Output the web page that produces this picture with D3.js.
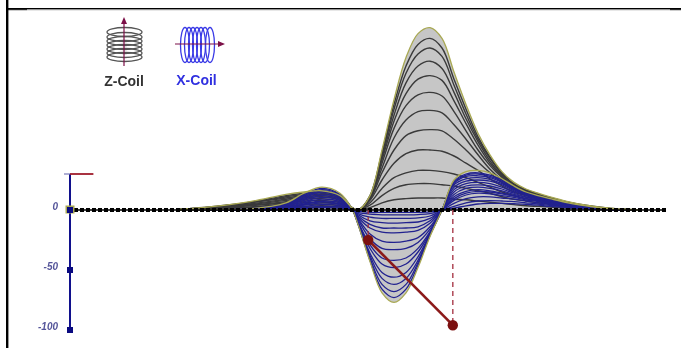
<!DOCTYPE html>
<html>
<head>
<meta charset="utf-8">
<script src="https://cdn.jsdelivr.net/npm/d3@7"></script>
<style>
    html, body { margin: 0; padding: 0; background: #fff; }
    svg { display: block; filter: blur(0.6px); }
</style>
</head>
<body>
<svg id="graph" width="681" height="348"></svg>
<script>
// sample positions along the scan (index of the baseline dots)
const samplePos = [18,24,30,36,39,42,45,47,48,50,52,54,56,58,60,62,64,66,68,70,72,74,76,78,80,83,86,90,95];

// Z-coil response, outermost first
const zEnvelope = [.5,3,7,13,15,16,12,2,0,12,50,92,127,147,152,143,115,88,64,46,32,23,17.5,14,11,7,4,1.5,0];
const zCurves = [
    [.5,3,6.5,12,14,15,11,2,0,12,48,88,120,138,143,135,109,84,61,44,31,22,17,13.5,10.5,6.5,4,1.5,0],
    [.5,2.5,6,11,13,14,10,2,0,11,46,84,114,130,135,128,104,80,59,43,30,21.5,16.5,13,10,6.5,3.5,1,0],
    [.5,2.5,6,10,12,13,10,2,0,11,44,79,106,120,124,118,98,76,57,41,29,21,16,12.5,10,6,3.5,1,0],
    [.5,2,5,9,11,12,9,2,0,11,42,74,97,109,112,108,91,72,54,39,28,20,15,12,9.5,6,3.5,1,0],
    [.5,2,4.5,8,10,11,8,1.5,0,10,39,68,87,96,98,95,82,66,50,37,27,19,14.5,11.5,9,5.5,3,1,0],
    [.3,1.5,4,7,9,9.5,7,1.5,0,10,35,60,75,82,83,81,71,59,46,34,25,18,14,11,8.5,5,3,1,0],
    [.3,1.5,3.5,6,7.5,8,6,1,0,9,31,50,62,66,67,66,59,50,40,31,23,17,13,10,8,5,3,1,0],
    [.3,1,2.5,5,6,6.5,5,1,0,8,25,39,47,50,50,49,45,39,33,26,20,15,12,9,7,4.5,2.5,1,0],
    [.2,1,2,3.5,4.5,5,3.5,1,0,6,18,27,31,33,33,32,30,27,23,19,15,12,9.5,8,6,4,2,.5,0],
    [.2,.5,1.5,2.5,3,3.5,2.5,.5,0,4,12,18,21,22,22,21,20,18,16,14,11,9,7.5,6,5,3,1.5,.5,0],
    [.1,.3,.8,1.5,2,2,1.5,.3,0,2,6,8.5,9.5,10,10,10,9,8.5,7.5,6.5,5.5,4.5,3.5,3,2.5,1.5,1,.3,0]
];

// X-coil response, outermost first
const xEnvelope = [0,.3,1,6,14,19,14,1,-12,-43,-69,-77,-69,-48,-22,0,25,32,33,31,26,20,15,12,9.5,6,3.5,1,0];
const xCurves = [
    [0,.3,1,5.5,13,18,13,1,-12,-42,-66,-73,-66,-46,-21,0,24,30,31,29,25,19,14.5,11.5,9,5.5,3,1,0],
    [0,.2,1,5,12,17,12.5,1,-11,-40,-62,-68,-62,-44,-21,0,23,29,30,28,24,18,14,11,8.5,5.5,3,1,0],
    [0,.2,1,5,11,16,12,1,-11,-38,-57,-62,-57,-42,-20,0,22,28,28.5,27,23,17.5,13.5,10.5,8,5,3,1,0],
    [0,.2,.8,4.5,10,15,11,1,-11,-36,-52,-56,-52,-39,-20,0,21,26,27,25.5,22,17,13,10,8,5,3,.8,0],
    [0,.2,.8,4,9,13.5,10,1,-10,-32,-45,-48,-45,-35,-19,0,19,24,25,24,21,16,12.5,10,7.5,5,2.5,.8,0],
    [0,.2,.7,3.5,8,12,9,1,-10,-29,-40,-42,-40,-32,-18,0,17,22,23,22,19,15,12,9.5,7,4.5,2.5,.8,0],
    [0,.1,.6,3,7,10.5,8,.8,-8,-24,-32,-33,-32,-27,-16,0,15,20,21,20,17.5,14,11,9,6.5,4,2.2,.7,0],
    [0,.1,.5,2.5,6,9,7,.7,-7,-20,-26,-27,-26,-23,-14,0,13,18,19,18,16,13,10.5,8.5,6,4,2,.6,0],
    [0,.1,.4,2,5,7.5,6,.6,-6,-15,-18.5,-19,-18.5,-17,-11,0,11,15.5,17,16,14,12,9.5,7.5,5.5,3.5,1.8,.5,0],
    [0,.1,.4,1.8,4.5,7,5,.5,-5,-12,-15,-15,-15,-14,-9,0,9.5,14,15.5,15,13.5,11.5,9.5,7.8,5.8,3.8,2,.6,0],
    [0,.1,.3,1.5,4,6,4.5,.5,-4,-9,-10.5,-11,-10.5,-10,-7,0,8,12.5,14,13.5,12,10.5,8.5,7,5,3,1.5,.4,0],
    [0,0,.2,1,3,4.5,3.5,.3,-3,-6,-7,-7,-7,-6.5,-5,0,5.5,9.5,11,11,10,9,7.5,6,4.5,2.8,1.4,.3,0],
    [0,0,.1,.7,2,3,2.5,.2,-2,-3.5,-4,-4,-4,-3.8,-3,0,3,6,7.5,7.8,7.5,7,6,5,3.8,2.4,1.2,.2,0],
    [0,0,.1,.4,1.2,2,1.6,.1,-1,-2,-2,-2,-2,-2,-1.5,0,1.5,3.5,5,5.5,5.5,5.2,4.8,4,3,2,1,.2,0]
];

const yTicks = [0, -50, -100];
const axisTop = 30;
const dotCount = 100;
// cursor: [position, value]
const cursorStart = [49.7, -25];
const cursorEnd = [63.8, -96];

let svg = d3.select('#graph');

let position = {
    x: d3.scaleLinear().domain([0, dotCount - 1]).range([70, 664]),
    y: d3.scaleLinear().domain([-100, 0]).range([330, 210])
};

let line = d3.line()
    .curve(d3.curveCatmullRom.alpha(0.5))
    .x((d, i) => position.x(samplePos[i]))
    .y(d => position.y(d));

let area = d3.area()
    .curve(d3.curveCatmullRom.alpha(0.5))
    .x((d, i) => position.x(samplePos[i]))
    .y0(position.y(0))
    .y1(d => position.y(d));

// page frame
let frame = svg.append('g');
frame.append('rect').attr('x', 6).attr('y', 0).attr('width', 2.4).attr('height', 348).attr('fill', '#000');
frame.append('rect').attr('x', 6).attr('y', 8).attr('width', 675).attr('height', 1.2).attr('fill', '#000');
frame.append('rect').attr('x', 27).attr('y', 9.2).attr('width', 643).attr('height', 1).attr('fill', '#888');
frame.append('rect').attr('x', 6).attr('y', 9.2).attr('width', 21).attr('height', 1).attr('fill', '#000');
frame.append('rect').attr('x', 670).attr('y', 9.2).attr('width', 11).attr('height', 1).attr('fill', '#000');

// grey fill under both envelopes
let fills = svg.append('g').attr('fill', '#c6c6c6');
fills.append('path').attr('d', area(zEnvelope));
fills.append('path').attr('d', area(xEnvelope));

svg.append('g').selectAll('path')
    .data(zCurves)
    .enter().append('path')
    .attr('d', d => line(d))
    .attr('fill', 'none')
    .attr('stroke', '#3a3a3a')
    .attr('stroke-width', 1.4);

svg.append('g').selectAll('path')
    .data(xCurves)
    .enter().append('path')
    .attr('d', d => line(d))
    .attr('fill', 'none')
    .attr('stroke', '#22228f')
    .attr('stroke-width', 1.3);

svg.append('g').selectAll('path')
    .data([zEnvelope, xEnvelope])
    .enter().append('path')
    .attr('d', d => line(d))
    .attr('fill', 'none')
    .attr('stroke', '#a9a953')
    .attr('stroke-width', 1.3);

// y axis
let axis = svg.append('g')
    .attr('transform', `translate(${position.x(0)},0)`)
    .call(d3.axisLeft(position.y).tickValues(yTicks).tickSize(0).tickPadding(12).tickFormat(d => String(d)));
axis.select('.domain').remove();
axis.selectAll('text')
    .attr('dy', '-0.05em')
    .style('font', 'italic bold 10px "Liberation Sans", Arial, sans-serif')
    .style('fill', '#55559a');

svg.append('line')
    .attr('x1', position.x(0)).attr('x2', position.x(0))
    .attr('y1', position.y(axisTop)).attr('y2', position.y(-100))
    .attr('stroke', '#10108c').attr('stroke-width', 2);
svg.append('line')
    .attr('x1', position.x(-1)).attr('x2', position.x(0))
    .attr('y1', position.y(axisTop)).attr('y2', position.y(axisTop))
    .attr('stroke', '#7a7ab8').attr('stroke-width', 1.2);
svg.append('line')
    .attr('x1', position.x(0)).attr('x2', position.x(3.9))
    .attr('y1', position.y(axisTop)).attr('y2', position.y(axisTop))
    .attr('stroke', '#a01c2c').attr('stroke-width', 1.8);

// baseline dots
svg.append('line')
    .attr('x1', position.x(0)).attr('x2', position.x(dotCount - 1))
    .attr('y1', position.y(0)).attr('y2', position.y(0))
    .attr('stroke', '#000').attr('stroke-width', 1.5);
svg.append('g').selectAll('rect')
    .data(d3.range(dotCount))
    .enter().append('rect')
    .attr('x', d => position.x(d) - 2)
    .attr('y', position.y(0) - 2)
    .attr('width', 4).attr('height', 4)
    .attr('fill', '#000');

// tick squares
svg.append('rect')
    .attr('x', position.x(0) - 4.5).attr('y', position.y(0) - 4.5)
    .attr('width', 9).attr('height', 8)
    .attr('fill', '#a9a953');
svg.append('g').selectAll('rect')
    .data(yTicks)
    .enter().append('rect')
    .attr('x', position.x(0) - 3)
    .attr('y', d => position.y(d) - 3)
    .attr('width', 6).attr('height', 6)
    .attr('fill', '#0a0a80');

// cursor
let cursor = svg.append('g');
cursor.append('line')
    .attr('x1', position.x(cursorStart[0])).attr('x2', position.x(cursorStart[0]))
    .attr('y1', position.y(0)).attr('y2', position.y(cursorStart[1]))
    .attr('stroke', '#a03040').attr('stroke-width', 1.3).attr('stroke-dasharray', '4,3');
cursor.append('line')
    .attr('x1', position.x(cursorEnd[0])).attr('x2', position.x(cursorEnd[0]))
    .attr('y1', position.y(0)).attr('y2', position.y(cursorEnd[1]))
    .attr('stroke', '#b04a58').attr('stroke-width', 1.5).attr('stroke-dasharray', '5,4');
cursor.append('line')
    .attr('x1', position.x(cursorStart[0])).attr('x2', position.x(cursorEnd[0]))
    .attr('y1', position.y(cursorStart[1])).attr('y2', position.y(cursorEnd[1]))
    .attr('stroke', '#8c1a1a').attr('stroke-width', 2.6);
cursor.selectAll('circle')
    .data([cursorStart, cursorEnd])
    .enter().append('circle')
    .attr('cx', d => position.x(d[0]))
    .attr('cy', d => position.y(d[1]))
    .attr('r', 5.2)
    .attr('fill', '#7c1010');

// coil icons
let zIcon = svg.append('g').attr('fill', 'none');
zIcon.selectAll('ellipse')
    .data([32, 37, 41, 45, 49, 53, 57])
    .enter().append('ellipse')
    .attr('cx', 124.5).attr('cy', d => d)
    .attr('rx', 17.5).attr('ry', 4.5)
    .attr('stroke', '#555').attr('stroke-width', 1.3);
zIcon.append('line')
    .attr('x1', 124).attr('x2', 124).attr('y1', 20).attr('y2', 66)
    .attr('stroke', '#7c1048').attr('stroke-width', 1.2);
zIcon.append('path').attr('d', 'M124,17 L121,24 L127,24 Z').attr('fill', '#7c1048');

let xIcon = svg.append('g').attr('fill', 'none');
xIcon.selectAll('ellipse')
    .data([185, 189, 193, 197, 201, 205, 210])
    .enter().append('ellipse')
    .attr('cx', d => d).attr('cy', 45)
    .attr('rx', 4.5).attr('ry', 17.5)
    .attr('stroke', '#3a3ae6').attr('stroke-width', 1.3);
xIcon.append('line')
    .attr('x1', 175).attr('x2', 220).attr('y1', 44).attr('y2', 44)
    .attr('stroke', '#7c1048').attr('stroke-width', 1.2);
xIcon.append('path').attr('d', 'M225,44 L218,41 L218,47 Z').attr('fill', '#7c1048');

svg.append('text')
    .attr('x', 124).attr('y', 86)
    .attr('text-anchor', 'middle')
    .style('font', 'bold 14px "Liberation Sans", Arial, sans-serif')
    .style('fill', '#333')
    .text('Z-Coil');
svg.append('text')
    .attr('x', 196.5).attr('y', 85)
    .attr('text-anchor', 'middle')
    .style('font', 'bold 14px "Liberation Sans", Arial, sans-serif')
    .style('fill', '#3030e0')
    .text('X-Coil');
</script>
</body>
</html>
